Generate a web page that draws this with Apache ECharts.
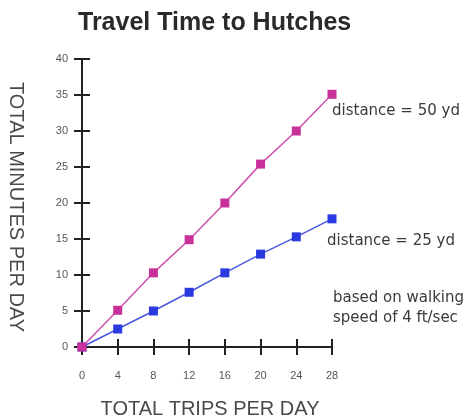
<!DOCTYPE html>
<html>
<head>
<meta charset="utf-8">
<script src="https://cdn.jsdelivr.net/npm/echarts@6/dist/echarts.min.js"></script>
<style>
  html, body { margin: 0; padding: 0; background: #fff; }
  #chart { width: 473px; height: 418px; }
</style>
</head>
<body>
<div id="chart"></div>
<script>
var trips = [0, 4, 8, 12, 16, 20, 24, 28];
var minutes50 = [0, 5.1, 10.3, 14.9, 20, 25.4, 30, 35.1];
var minutes25 = [0, 2.5, 5, 7.6, 10.3, 12.9, 15.3, 17.8];

function pairs(xs, ys) {
    var out = [];
    for (var i = 0; i < xs.length; i++) out.push([xs[i], ys[i]]);
    return out;
}

var font = "Liberation Sans, Arial, sans-serif";
var noteFont = "DejaVu Sans, Verdana, sans-serif";
var lineStyle = { color: "#222", width: 2 };

var chart = echarts.init(document.getElementById("chart"));
chart.setOption({
    animation: false,
    backgroundColor: "#fff",
    title: {
        text: "Travel Time to Hutches",
        left: 73,
        top: 6,
        textStyle: { fontFamily: font, fontSize: 25, fontWeight: "bold", color: "#2a2a2a" }
    },
    grid: { left: 82, right: 141, top: 59, bottom: 71, outerBoundsMode: "none" },
    xAxis: [{
        type: "value", min: 0, max: 28, interval: 4,
        axisLine: { show: true, onZero: false, lineStyle: lineStyle },
        axisTick: { show: true, length: 8, lineStyle: lineStyle },
        axisLabel: { margin: 23, color: "#555", fontSize: 11, fontFamily: font },
        splitLine: { show: false },
        name: "TOTAL TRIPS PER DAY",
        nameLocation: "middle",
        nameGap: 52,
        nameTextStyle: { color: "#4a4a4a", fontSize: 20, fontFamily: font, padding: [0, 0, 0, 6] }
    }, {
        type: "value", min: 0, max: 28, interval: 4, position: "bottom",
        axisLine: { show: false },
        axisTick: { show: true, inside: true, length: 8, lineStyle: lineStyle },
        axisLabel: { show: false },
        splitLine: { show: false }
    }],
    yAxis: [{
        type: "value", min: 0, max: 40, interval: 5,
        axisLine: { show: true, onZero: false, lineStyle: lineStyle },
        axisTick: { show: true, length: 8, lineStyle: lineStyle },
        axisLabel: { margin: 14, color: "#555", fontSize: 11, fontFamily: font },
        splitLine: { show: false },
        name: "TOTAL MINUTES PER DAY",
        nameLocation: "middle",
        nameRotate: -90,
        nameGap: 56,
        nameTextStyle: { color: "#4a4a4a", fontSize: 20, fontFamily: font, padding: [0, 0, 0, 8] }
    }, {
        type: "value", min: 0, max: 40, interval: 5, position: "left",
        axisLine: { show: false },
        axisTick: { show: true, inside: true, length: 8, lineStyle: lineStyle },
        axisLabel: { show: false },
        splitLine: { show: false }
    }],
    series: [{
        name: "distance = 50 yd",
        type: "line",
        data: pairs(trips, minutes50),
        symbol: "rect",
        symbolSize: 9,
        z: 3,
        itemStyle: { color: "#c8309a" },
        lineStyle: { color: "#d050b0", width: 1.5 }
    }, {
        name: "distance = 25 yd",
        type: "line",
        data: pairs(trips, minutes25),
        symbol: "rect",
        symbolSize: 9,
        z: 2,
        itemStyle: { color: "#2a3ae0" },
        lineStyle: { color: "#4a5ae0", width: 1.5 }
    }],
    graphic: [
        { type: "text", left: 332, top: 104, style: { text: "distance = 50 yd", fontFamily: noteFont, fontSize: 15, fill: "#3a3a3a" } },
        { type: "text", left: 327, top: 234, style: { text: "distance = 25 yd", fontFamily: noteFont, fontSize: 15, fill: "#3a3a3a" } },
        { type: "text", left: 333, top: 288, style: { text: "based on walking\nspeed of 4 ft/sec", fontFamily: noteFont, fontSize: 15, lineHeight: 20, fill: "#3a3a3a" } }
    ]
});
</script>
</body>
</html>
